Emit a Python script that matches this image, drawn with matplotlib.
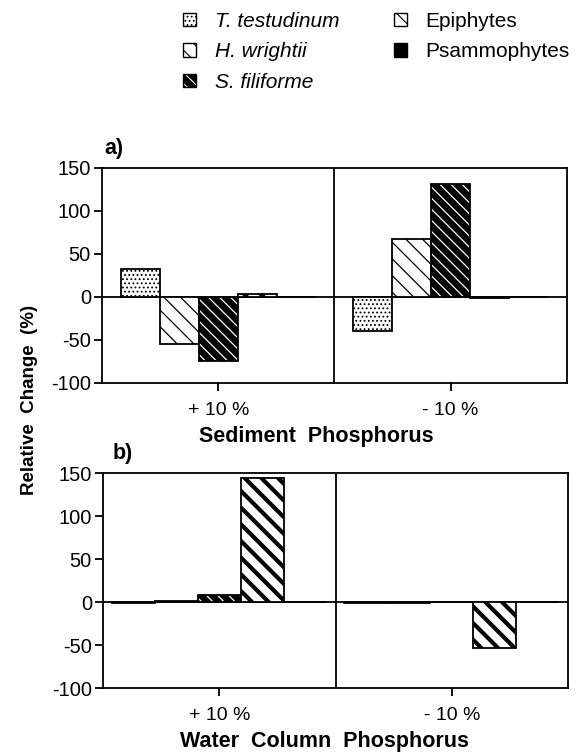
import numpy as np
import matplotlib
matplotlib.use("Agg")
import matplotlib.pyplot as plt
from matplotlib.patches import Patch

plt.rcParams['font.family'] = ['Liberation Sans', 'DejaVu Sans']
plt.rcParams['axes.unicode_minus'] = False

# groups on the x axis
groups = ['+ 10 %', '- 10 %']
species = ['T. testudinum', 'H. wrightii', 'S. filiforme', 'Epiphytes', 'Psammophytes']

# relative change (%) for each species, one value per group
sediment_p = {
    'T. testudinum': [33, -39],
    'H. wrightii': [-55, 67],
    'S. filiforme': [-74, 131],
    'Epiphytes': [3, -1],
    'Psammophytes': [0, 0],
}
water_p = {
    'T. testudinum': [-1, -1],
    'H. wrightii': [1, -1],
    'S. filiforme': [8, 0],
    'Epiphytes': [144, -54],
    'Psammophytes': [0, 0],
}

# fill styles: (face, hatch, hatch colour, hatch linewidth)
styles = {
    'T. testudinum': ('white', '....', 'black', 0.8),
    'H. wrightii': ('white', '\\\\', 'black', 0.9),
    'S. filiforme': ('black', '\\\\\\', 'white', 0.9),
    'Epiphytes': ('white', '\\\\', 'black', 3.0),
    'Psammophytes': ('black', '', 'black', 1.0),
}


def hatched_bar(ax, x, h, width, name):
    face, hatch, hcol, hlw = styles[name]
    plt.rcParams['hatch.linewidth'] = hlw
    b = ax.bar(x, h, width, color=face, edgecolor=hcol, hatch=hatch, linewidth=0)
    for p in b:
        if hasattr(p, 'set_hatch_linewidth'):
            p.set_hatch_linewidth(hlw)
    # black outline on top
    ax.bar(x, h, width, fill=False, edgecolor='black', linewidth=1.3)


def panel(ax, data, width, xlabel, label_x, tag, tag_x):
    x = np.arange(len(groups))
    for i, name in enumerate(species):
        off = (i - 2) * width
        hatched_bar(ax, x + off, data[name], width, name)
    ax.axhline(0, color='black', lw=1.3, zorder=0.5)
    ax.axvline(0.5, color='black', lw=1.3)
    ax.set_xlim(-0.5, 1.5)
    ax.set_ylim(-100, 150)
    ax.set_yticks([-100, -50, 0, 50, 100, 150])
    ax.set_xticks(x)
    ax.set_xticklabels(groups)
    ax.tick_params(direction='out', length=6, width=1.3, labelsize=14.5, pad=2)
    ax.tick_params(axis='x', pad=8, labelsize=14)
    for s in ax.spines.values():
        s.set_linewidth(1.3)
    ax.set_xlabel(xlabel, fontsize=15.5, fontweight='bold')
    ax.xaxis.set_label_coords(label_x, -0.2)
    ax.text(tag_x, 1.04, tag, transform=ax.transAxes, fontsize=15.5,
            fontweight='bold', ha='left', va='bottom')


fig = plt.figure(figsize=(5.84, 7.53), dpi=100)
ax_a = fig.add_axes([0.1747, 0.4914, 0.796, 0.2855])
ax_b = fig.add_axes([0.1765, 0.0863, 0.796, 0.2855])

panel(ax_a, sediment_p, 0.168, 'Sediment  Phosphorus', 0.46, 'a)', 0.005)
panel(ax_b, water_p, 0.185, 'Water  Column  Phosphorus', 0.477, 'b)', 0.02)

fig.text(0.05, 0.469, 'Relative  Change  (%)', rotation=90, fontsize=13.5,
         fontweight='bold', ha='center', va='center')

# legend
plt.rcParams['hatch.linewidth'] = 0.8
handles = []
for name in species:
    face, hatch, hcol, hlw = styles[name]
    under = Patch(facecolor=face, edgecolor=hcol, hatch=hatch, linewidth=0)
    if hasattr(under, 'set_hatch_linewidth'):
        under.set_hatch_linewidth(min(hlw, 2.5))
    outline = Patch(fill=False, edgecolor='black', linewidth=1.0)
    handles.append((under, outline))

leg = fig.legend(handles, species, ncol=2, loc='upper left',
                 bbox_to_anchor=(0.282, 1.009), frameon=False, fontsize=15,
                 handlelength=0.6, handleheight=0.6, handletextpad=0.9,
                 labelspacing=0.55, columnspacing=2.65)
for t in leg.get_texts():
    if t.get_text() in species[:3]:
        t.set_fontstyle('italic')

fig.savefig('out.png', dpi=100)
